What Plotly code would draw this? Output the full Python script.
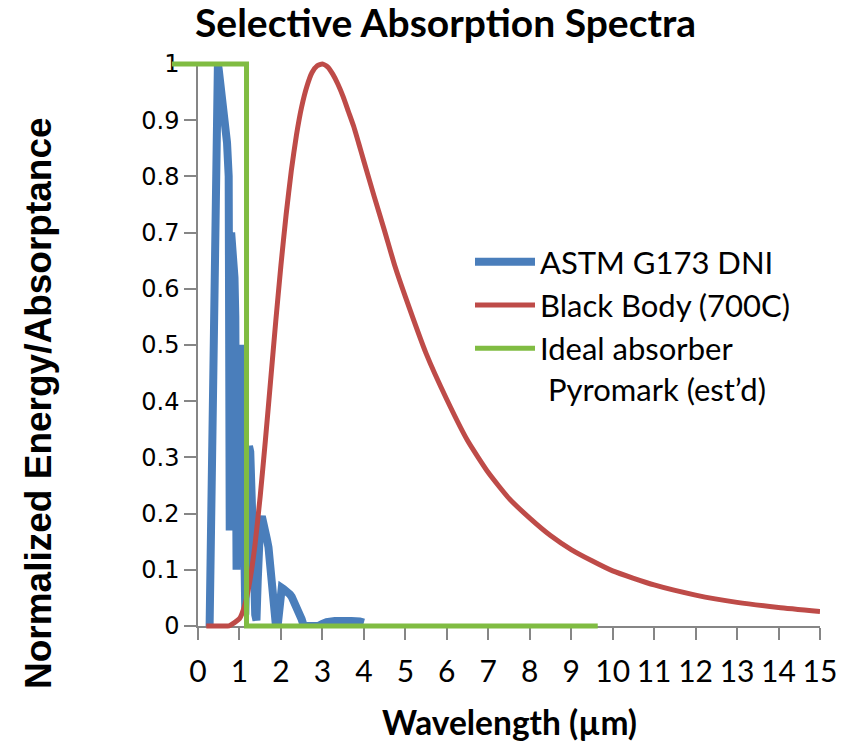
import plotly.graph_objects as go

# ---------------- data ----------------
astm_x = [0.28,0.30,0.32,0.35,0.38,0.42,0.45,0.48,0.50,0.55,0.60,0.65,0.70,0.74,0.755,
          0.765,0.775,0.80,0.84,0.88,0.90,0.93,0.95,0.98,1.00,1.02,1.04,1.07,1.10,1.12,
          1.14,1.17,1.20,1.23,1.26,1.29,1.32,1.35,1.38,1.41,1.44,1.47,1.50,1.54,1.58,
          1.62,1.66,1.70,1.74,1.77,1.80,1.84,1.88,1.92,1.95,1.98,2.02,2.06,2.10,2.14,
          2.18,2.22,2.26,2.30,2.34,2.38,2.42,2.46,2.50,2.55,2.70,2.90,3.00,3.10,3.30,
          3.50,3.70,3.90,4.00]
astm_y = [0,0.10,0.35,0.52,0.60,0.72,0.86,1.0,0.99,0.96,0.93,0.90,0.86,0.80,0.45,
          0.17,0.55,0.70,0.66,0.62,0.55,0.10,0.25,0.42,0.47,0.50,0.46,0.40,0.25,0.08,
          0.02,0.12,0.28,0.32,0.31,0.26,0.20,0.10,0.02,0.01,0.08,0.15,0.185,0.195,0.185,
          0.17,0.155,0.14,0.11,0.08,0.03,0.0,0.0,0.0,0.02,0.05,0.068,0.066,0.064,0.064,
          0.060,0.056,0.052,0.046,0.040,0.034,0.027,0.020,0.012,0.0,0.0,0.0,0.004,0.007,0.009,
          0.010,0.009,0.008,0.006]

bb_x = [0.2,0.5,0.75,1.0,1.125,1.25,1.375,1.5,1.625,1.75,1.875,2.0,2.125,2.25,2.375,2.5,
        2.625,2.75,2.875,3.0,3.125,3.25,3.375,3.5,3.625,3.75,3.875,4.0,4.25,4.5,4.75,5.0,
        5.5,6.0,6.5,7.0,7.5,8.0,8.5,9.0,9.5,10,11,12,13,14,15]
bb_y = [0,0,0.0004,0.013,0.036,0.080,0.145,0.231,0.330,0.436,0.542,0.642,0.732,0.810,0.874,0.924,
        0.960,0.985,0.997,1.0,0.995,0.982,0.964,0.942,0.916,0.890,0.859,0.827,0.764,0.703,0.640,0.586,
        0.485,0.403,0.330,0.273,0.227,0.192,0.161,0.136,0.116,0.098,0.073,0.055,0.042,0.033,0.026]

ideal_x = [-0.63, 1.17, 1.17, 9.64]
ideal_y = [1, 1, 0, 0]

x_ticks = list(range(0, 16))
y_ticks = [0, 0.1, 0.2, 0.3, 0.4, 0.5, 0.6, 0.7, 0.8, 0.9, 1]
y_ticklabels = ["0", "0.1", "0.2", "0.3", "0.4", "0.5", "0.6", "0.7", "0.8", "0.9", "1"]

names = ["ASTM G173 DNI", "Black Body (700C)", "Ideal absorber<br> Pyromark (est\u2019d)"]
colors = ["#4A7EBB", "#BE4B48", "#80BC42"]

# ---------------- layout geometry ----------------
W, H = 852, 744
ML, MR, MT, MB = 160, 32, 54, 108
PL, PR, PT, PB = 198, 820, 64, 626          # display plot box (pixels)
PW, PH = W - ML - MR, H - MT - MB
paper_bottom = H - MB

xdom = [(PL - ML) / PW, (PR - ML) / PW]
ydom = [(paper_bottom - PB) / PH, (paper_bottom - PT) / PH]
upx = 15 / (PR - PL)
upy = 1 / (PB - PT)
x2range = [-(PL - ML) * upx, 15 + (W - MR - PR) * upx]
y2range = [-(paper_bottom - PB) * upy, 1 + (PT - MT) * upy]

def px(xp):
    return (xp - ML) / PW

def py(yp):
    return (paper_bottom - yp) / PH

fig = go.Figure()
fig.add_trace(go.Scatter(x=astm_x, y=astm_y, mode="lines", name=names[0],
                         line=dict(color=colors[0], width=8), xaxis="x", yaxis="y"))
fig.add_trace(go.Scatter(x=bb_x, y=bb_y, mode="lines", name=names[1],
                         line=dict(color=colors[1], width=5, shape="spline", smoothing=0.5),
                         xaxis="x2", yaxis="y2"))
fig.add_trace(go.Scatter(x=ideal_x, y=ideal_y, mode="lines", name=names[2],
                         line=dict(color=colors[2], width=5), xaxis="x2", yaxis="y2"))

axis_gray = "#868686"
fig.update_layout(
    width=W, height=H,
    margin=dict(l=ML, r=MR, t=MT, b=MB, pad=0),
    paper_bgcolor="white", plot_bgcolor="rgba(0,0,0,0)",
    showlegend=True,
    legend=dict(x=px(470), y=py(235), xanchor="left", yanchor="top",
                font=dict(family="Lato", size=31, color="black"),
                bgcolor="rgba(0,0,0,0)", itemwidth=60, valign="top",
                tracegroupgap=0),
    xaxis=dict(domain=xdom, range=[0, 15], tickvals=x_ticks, ticktext=[str(v) for v in x_ticks],
               showgrid=False, zeroline=False, showline=True, linecolor=axis_gray, linewidth=1.5,
               ticks="outside", ticklen=12, tickcolor=axis_gray, tickwidth=1.5,
               tickfont=dict(family="Lato", size=30, color="black"), ticklabelstandoff=6,
               anchor="y"),
    yaxis=dict(domain=ydom, range=[0, 1], tickvals=y_ticks, ticktext=y_ticklabels,
               showgrid=False, zeroline=False, showline=True, linecolor=axis_gray, linewidth=1.5,
               ticks="outside", ticklen=12, tickcolor=axis_gray, tickwidth=1.5,
               tickfont=dict(family="DejaVu Sans", size=24, color="black"),
               anchor="x"),
    xaxis2=dict(domain=[0, 1], range=x2range, visible=False, anchor="y2"),
    yaxis2=dict(domain=[0, 1], range=y2range, visible=False, anchor="x2"),
    annotations=[
        dict(text="<b>Selective Absorption Spectra</b>", x=px(445), y=py(22), xref="paper", yref="paper",
             xanchor="center", yanchor="middle", showarrow=False,
             font=dict(family="Lato", size=39, color="black")),
        dict(text="<b>Normalized Energy/Absorptance</b>", x=px(38), y=py(403), xref="paper", yref="paper",
             xanchor="center", yanchor="middle", showarrow=False, textangle=-90,
             font=dict(family="Liberation Sans", size=37, color="black")),
        dict(text="<b>Wavelength (\u00b5m)</b>", x=px(509), y=py(722), xref="paper", yref="paper",
             xanchor="center", yanchor="middle", showarrow=False,
             font=dict(family="Lato", size=33.5, color="black")),
    ],
)

fig.write_html("out.html")
